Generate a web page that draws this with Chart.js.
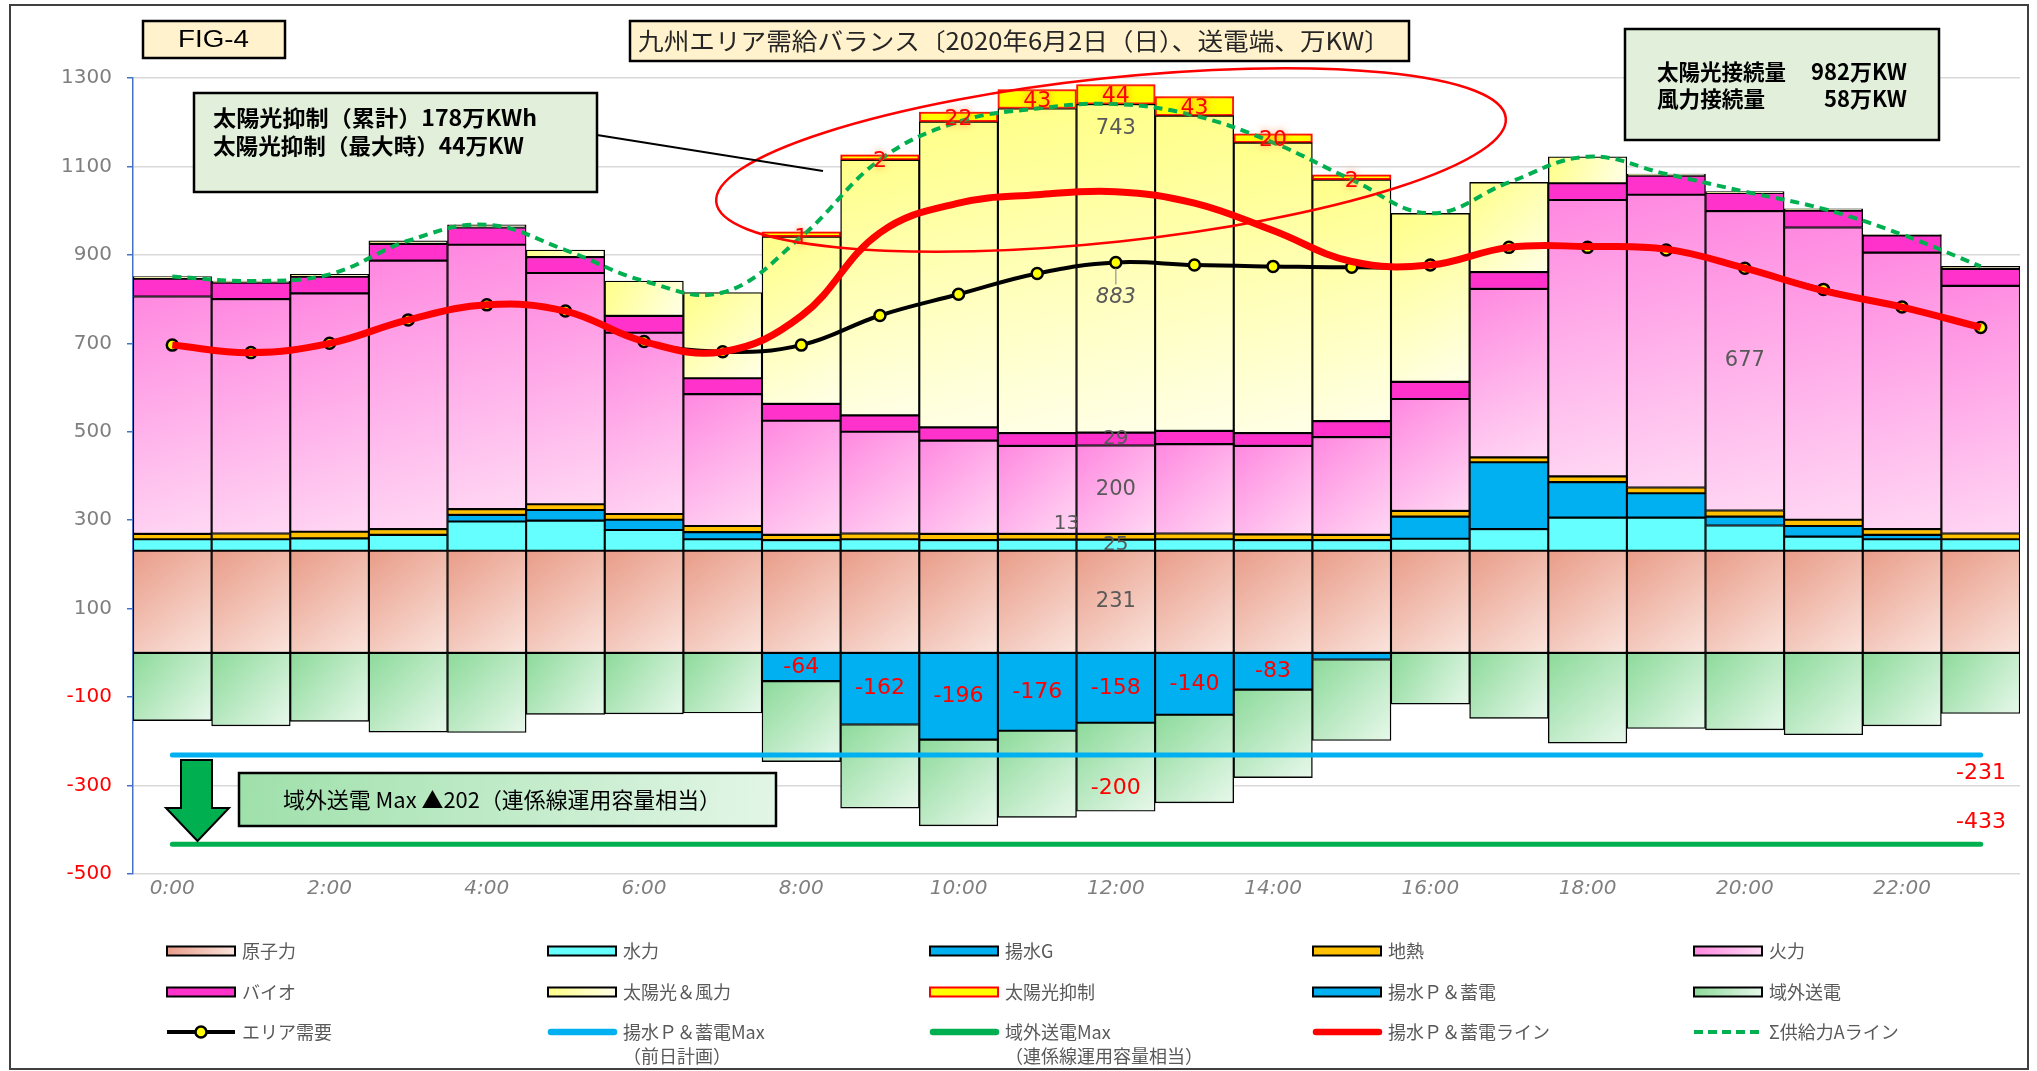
<!DOCTYPE html>
<html><head><meta charset="utf-8">
<script src="https://cdn.jsdelivr.net/npm/chart.js@4.4.0/dist/chart.umd.min.js"></script>
<style>html,body{margin:0;padding:0;background:#fff;overflow:hidden}canvas{display:block}</style>
</head><body>
<canvas id="c" width="2037" height="1071" style="width:2037px;height:1071px"></canvas>
<script>
// ---- data (万KW) ----
const hours = ['0:00','1:00','2:00','3:00','4:00','5:00','6:00','7:00','8:00','9:00','10:00','11:00','12:00','13:00','14:00','15:00','16:00','17:00','18:00','19:00','20:00','21:00','22:00','23:00'];
const nuclear    = [231,231,231,231,231,231,231,231,231,231,231,231,231,231,231,231,231,231,231,231,231,231,231,231];
const hydro      = [26,26,28,36,66,68,47,26,24,26,24,25,25,26,24,24,27,49,75,75,57,32,26,26];
const pumpGen    = [0,0,0,0,15,24,23,16,0,0,0,0,0,0,0,0,50,151,80,55,20,24,10,0];
const geothermal = [12,13,15,13,13,13,13,14,12,13,14,13,13,13,13,12,13,11,13,13,14,14,13,13];
const thermal    = [537,530,539,607,598,523,410,298,258,230,211,199,200,202,200,221,253,381,625,662,677,661,625,560];
const bio        = [40,37,38,38,39,36,38,36,38,37,30,29,29,30,29,36,39,38,38,43,41,38,39,38];
const solarWind  = [5,4,5,7,6,16,79,194,378,578,691,734,743,713,657,546,381,203,60,4,3,4,2,6];
const curtailment= [0,0,0,0,0,0,0,0,1,2,22,43,44,43,20,2,0,0,0,0,0,0,0,0];
const pumpCharge = [0,0,0,0,0,0,0,0,-64,-162,-196,-176,-158,-140,-83,-15,0,0,0,0,0,0,0,0];
const exportOut  = [-153,-165,-155,-179,-180,-139,-138,-136,-182,-189,-195,-196,-200,-199,-199,-183,-116,-148,-204,-171,-174,-185,-165,-137];
const demand     = [696,679,700,753,787,773,704,681,696,763,811,858,883,877,874,872,877,917,917,911,870,822,782,736];
const pumpLine   = [696,679,700,753,787,773,704,681,762,950,1017,1036,1043,1017,955,885,877,917,919,913,870,819,782,736];
const supplyLine = [851,841,856,932,968,911,841,815,941,1115,1201,1231,1241,1215,1154,1070,994,1064,1122,1083,1043,1004,946,874];
const pumpMax    = [-231,-231,-231,-231,-231,-231,-231,-231,-231,-231,-231,-231,-231,-231,-231,-231,-231,-231,-231,-231,-231,-231,-231,-231];
const exportMax  = [-433,-433,-433,-433,-433,-433,-433,-433,-433,-433,-433,-433,-433,-433,-433,-433,-433,-433,-433,-433,-433,-433,-433,-433];
const yTicks     = [1300,1100,900,700,500,300,100,-100,-300,-500];

const JP = "'Noto Sans CJK JP','Liberation Sans',sans-serif";
const NUM = "'DejaVu Sans','Liberation Sans',sans-serif";

const posSeries = [nuclear, hydro, pumpGen, geothermal, thermal, bio, solarWind, curtailment];
const negSeries = [pumpCharge, exportOut];
function extents(list, k, j){ let lo=0; for(let i=0;i<k;i++) lo += list[i][j]||0; return [lo, lo + (list[k][j]||0)]; }
function lin(c,x0,y0,x1,y1,c0,c1){ const g=c.createLinearGradient(x0,y0,x1,y1); g.addColorStop(0,c0); g.addColorStop(1,c1); return g; }
function gradBg(list,k,c0,c1){
  return (ctx)=>{
    const ch=ctx.chart; if(!ch.chartArea || ctx.type!=='data') return c0;
    const xs=ch.scales.x, ys=ch.scales.y, j=ctx.dataIndex;
    const cx=xs.getPixelForValue(j), hw=ch.chartArea.width/hours.length/2;
    const [a,b]=extents(list,k,j);
    return lin(ch.ctx, cx-hw, ys.getPixelForValue(Math.max(a,b)), cx+hw, ys.getPixelForValue(Math.min(a,b)), c0, c1);
  };
}
const nz = arr => arr.map(v => v===0 ? null : v);

const COL = {
  nuclear:['#E99C88','#FAE4DD'], hydro:'#66FFFF', pumpG:'#00B0F0', geo:'#FFC000',
  thermal:['#FF88E0','#FFD8F4'], bio:'#FF33CC', solar:['#FFFF88','#FFFFE8'],
  curtail:'#FFFF00', pump:'#00B0F0', export:['#8CDA9A','#E8F8EB']
};
const barBase = {type:'bar', stack:'S', borderColor:'#000', borderWidth:1.4, borderSkipped:false, categoryPercentage:1, barPercentage:1};

const datasets = [
  {type:'line', label:'Σ供給力Aライン', data:supplyLine, stack:'L1', borderColor:'#00B050', borderWidth:4, borderDash:[9,6], pointRadius:0, tension:0.4, fill:false},
  {type:'line', label:'揚水Ｐ＆蓄電ライン', data:pumpLine, stack:'L2', borderColor:'#FF0000', borderWidth:7, pointRadius:0, tension:0.4, fill:false},
  {type:'line', label:'エリア需要', data:demand, stack:'L3', borderColor:'#000', borderWidth:4, pointRadius:5.5, pointBorderWidth:2.5, pointBackgroundColor:'#FFFF00', pointBorderColor:'#000', tension:0.4, fill:false},
  {type:'line', label:'揚水Ｐ＆蓄電Max', data:pumpMax, stack:'L4', borderColor:'#00B0F0', borderWidth:5, borderCapStyle:'round', pointRadius:0, fill:false},
  {type:'line', label:'域外送電Max', data:exportMax, stack:'L5', borderColor:'#00B050', borderWidth:5, borderCapStyle:'round', pointRadius:0, fill:false},
  {...barBase, label:'原子力', data:nz(nuclear), backgroundColor:gradBg(posSeries,0,COL.nuclear[0],COL.nuclear[1])},
  {...barBase, label:'水力', data:nz(hydro), backgroundColor:COL.hydro},
  {...barBase, label:'揚水G', data:nz(pumpGen), backgroundColor:COL.pumpG},
  {...barBase, label:'地熱', data:nz(geothermal), backgroundColor:COL.geo},
  {...barBase, label:'火力', data:nz(thermal), backgroundColor:gradBg(posSeries,4,COL.thermal[0],COL.thermal[1])},
  {...barBase, label:'バイオ', data:nz(bio), backgroundColor:COL.bio},
  {...barBase, label:'太陽光＆風力', data:nz(solarWind), backgroundColor:gradBg(posSeries,6,COL.solar[0],COL.solar[1])},
  {...barBase, label:'太陽光抑制', data:nz(curtailment), backgroundColor:COL.curtail, borderColor:'#FF0000', borderWidth:2, minBarLength:5, glow:true},
  {...barBase, label:'揚水Ｐ＆蓄電', data:nz(pumpCharge), backgroundColor:COL.pump},
  {...barBase, label:'域外送電', data:nz(exportOut), backgroundColor:gradBg(negSeries,1,COL.export[0],COL.export[1])}
];

function txt(c,s,x,y,o={}){
  c.save();
  c.font=`${o.style||'normal'} ${o.weight||'normal'} ${o.size||20}px ${o.family||NUM}`;
  c.fillStyle=o.color||'#595959'; c.textAlign=o.align||'center'; c.textBaseline=o.base||'middle';
  if(o.glow){ c.shadowColor=o.glow; c.shadowBlur=7; }
  if(o.width){
    const w=c.measureText(s).width; const k=Math.max(0.75,Math.min(1.3,o.width/w));
    c.translate(x,y); c.scale(k,1); c.textAlign='left'; c.fillText(s,0,0);
  } else c.fillText(s,x,y);
  c.restore();
}
function box(c,x0,y0,x1,y1,fill){
  c.save(); c.fillStyle=fill; c.fillRect(x0,y0,x1-x0,y1-y0);
  c.lineWidth=2.5; c.strokeStyle='#000'; c.strokeRect(x0,y0,x1-x0,y1-y0); c.restore();
}

const legendItems = [
  {t:['原子力'], kind:'box', grad:COL.nuclear}, {t:['水力'], kind:'box', fill:COL.hydro}, {t:['揚水G'], kind:'box', fill:COL.pumpG}, {t:['地熱'], kind:'box', fill:COL.geo}, {t:['火力'], kind:'box', grad:COL.thermal},
  {t:['バイオ'], kind:'box', fill:COL.bio}, {t:['太陽光＆風力'], kind:'box', grad:COL.solar}, {t:['太陽光抑制'], kind:'box', fill:COL.curtail, stroke:'#FF0000'}, {t:['揚水Ｐ＆蓄電'], kind:'box', fill:COL.pump}, {t:['域外送電'], kind:'box', grad:COL.export},
  {t:['エリア需要'], kind:'marker'}, {t:['揚水Ｐ＆蓄電Max','（前日計画）'], kind:'line', color:'#00B0F0'}, {t:['域外送電Max','（連係線運用容量相当）'], kind:'line', color:'#00B050'}, {t:['揚水Ｐ＆蓄電ライン'], kind:'line', color:'#FF0000'}, {t:['Σ供給力Aライン'], kind:'dash', color:'#00B050'}
];
function drawLegend(c){
  const colX=[167,548,930,1313,1694], rowY=[951,992,1032], w=68;
  legendItems.forEach((it,i)=>{
    const x=colX[i%5], y=rowY[Math.floor(i/5)];
    c.save();
    if(it.kind==='box'){
      c.fillStyle = it.grad ? lin(c,x,y-4,x+w,y+4,it.grad[0],it.grad[1]) : it.fill;
      c.fillRect(x,y-4.5,w,9); c.lineWidth=2; c.strokeStyle=it.stroke||'#000'; c.strokeRect(x,y-4.5,w,9);
    } else if(it.kind==='line'){
      c.strokeStyle=it.color; c.lineWidth=6.5; c.lineCap='round'; c.beginPath(); c.moveTo(x+3,y); c.lineTo(x+w-2,y); c.stroke();
    } else if(it.kind==='dash'){
      c.strokeStyle=it.color; c.lineWidth=4; c.setLineDash([9,5]); c.beginPath(); c.moveTo(x,y); c.lineTo(x+w,y); c.stroke();
    } else {
      c.strokeStyle='#000'; c.lineWidth=4; c.beginPath(); c.moveTo(x,y); c.lineTo(x+w,y); c.stroke();
      c.beginPath(); c.arc(x+w/2,y,5.5,0,Math.PI*2); c.fillStyle='#FFFF00'; c.fill(); c.lineWidth=2.5; c.stroke();
    }
    c.restore();
    it.t.forEach((s,k)=>txt(c,s,x+75,y+k*24,{size:18,align:'left',family:JP,color:'#595959'}));
  });
}

const deco = {
  id:'deco',
  beforeDatasetDraw(chart,args){ if(chart.data.datasets[args.index].glow){ const c=chart.ctx; c.save(); c.shadowColor='rgba(255,110,40,0.85)'; c.shadowBlur=14; } },
  afterDatasetDraw(chart,args){ if(chart.data.datasets[args.index].glow){ chart.ctx.restore(); } },
  afterDraw(chart){
    const c=chart.ctx, xs=chart.scales.x, ys=chart.scales.y, Y=v=>ys.getPixelForValue(v), X=j=>xs.getPixelForValue(j);
    const hw = chart.chartArea.width/hours.length/2;
    // red ellipse
    c.save(); c.strokeStyle='#FF0000'; c.lineWidth=2.5; c.beginPath(); c.ellipse(1111,160,397,82,-0.1065,0,Math.PI*2); c.stroke(); c.restore();
    // curtailment labels
    curtailment.forEach((v,j)=>{ if(v>0){ const [a,b]=extents(posSeries,7,j); txt(c,String(v),X(j),Y((a+b)/2)+2,{size:22,color:'#FF0000',glow:'rgba(255,120,40,0.9)'}); } });
    // pump labels
    pumpCharge.forEach((v,j)=>{ if(v<=-50) txt(c,String(v),X(j),Y(v/2),{size:22,color:'#FF0000'}); });
    // 12:00 column labels
    const k=12;
    const e = i=>extents(posSeries,i,k);
    txt(c,String(nuclear[k]),X(k),Y(nuclear[k]/2),{size:21,color:'#595959'});
    txt(c,String(hydro[k]),X(k),Y((e(1)[0]+e(1)[1])/2),{size:20,color:'#595959'});
    txt(c,String(geothermal[k]),X(k)-hw-10,Y(e(3)[1])-10,{size:20,color:'#595959'});
    txt(c,String(thermal[k]),X(k),Y((e(4)[0]+e(4)[1])/2),{size:21,color:'#595959'});
    txt(c,String(bio[k]),X(k),Y((e(5)[0]+e(5)[1])/2),{size:20,color:'#595959'});
    txt(c,String(solarWind[k]),X(k),Y(e(6)[1])+24,{size:21,color:'#595959'});
    c.save(); c.strokeStyle='#A6A6A6'; c.lineWidth=1.5; c.beginPath(); c.moveTo(X(k),Y(demand[k])+6); c.lineTo(X(k),Y(demand[k])+22); c.stroke(); c.restore();
    txt(c,String(demand[k]),X(k),Y(demand[k])+35,{size:21,style:'italic',color:'#595959'});
    txt(c,String(exportOut[k]),X(k),Y(pumpCharge[k]+exportOut[k])-23,{size:22,color:'#FF0000'});
    const t=20; const et=extents(posSeries,4,t);
    txt(c,String(thermal[t]),X(t),Y((et[0]+et[1])/2),{size:21,color:'#595959'});
    // max line labels
    txt(c,String(pumpMax[23]),2006,Y(pumpMax[23])+18,{size:22,color:'#FF0000',align:'right'});
    txt(c,String(exportMax[23]),2006,Y(exportMax[23])-22,{size:22,color:'#FF0000',align:'right'});
    // boxes
    box(c,143,21,285,58,'#FFF2CC');
    txt(c,'FIG-4',178,40,{size:24,family:"'Liberation Sans',sans-serif",color:'#000',align:'left',width:71});
    box(c,630,21,1409,61,'#FFF2CC');
    txt(c,'九州エリア需給バランス〔2020年6月2日（日）、送電端、万KW〕',638,41,{size:24,family:JP,color:'#262626',align:'left',width:752});
    box(c,194,93,597,192,'#E2EFDA');
    txt(c,'太陽光抑制（累計）178万KWh',213,118,{size:22,family:JP,weight:'bold',color:'#000',align:'left',width:324});
    txt(c,'太陽光抑制（最大時）44万KW',213,146,{size:22,family:JP,weight:'bold',color:'#000',align:'left',width:311});
    c.save(); c.strokeStyle='#000'; c.lineWidth=2; c.beginPath(); c.moveTo(597,135); c.lineTo(823,171); c.stroke(); c.restore();
    box(c,1625,29,1939,140,'#E2EFDA');
    txt(c,'太陽光接続量',1657,72,{size:22,family:JP,weight:'bold',color:'#000',align:'left',width:129});
    txt(c,'982万KW',1907,72,{size:22,family:JP,weight:'bold',color:'#000',align:'right'});
    txt(c,'風力接続量',1657,99,{size:22,family:JP,weight:'bold',color:'#000',align:'left',width:108});
    txt(c,'58万KW',1907,99,{size:22,family:JP,weight:'bold',color:'#000',align:'right'});
    box(c,239,773,776,826,lin(c,239,773,776,826,'#9EE0AA','#E3F6E7'));
    txt(c,'域外送電 Max ▲202（連係線運用容量相当）',283,800,{size:22,family:JP,color:'#000',align:'left',width:438});
    // arrow
    c.save(); c.beginPath(); c.moveTo(181,760); c.lineTo(212,760); c.lineTo(212,808); c.lineTo(229,808); c.lineTo(197.5,841); c.lineTo(166,808); c.lineTo(181,808); c.closePath();
    c.fillStyle='#00B050'; c.fill(); c.lineWidth=2; c.strokeStyle='#000'; c.stroke(); c.restore();
    drawLegend(c);
    c.save(); c.strokeStyle='#404040'; c.lineWidth=2; c.strokeRect(10,5,2018,1064); c.restore();
  }
};

new Chart(document.getElementById('c'), {
  type:'bar',
  data:{labels:hours, datasets},
  options:{
    responsive:false, animation:false, devicePixelRatio:1,
    layout:{autoPadding:false, padding:{left:0, top:78, right:17, bottom:157}},
    plugins:{legend:{display:false}, tooltip:{enabled:false}, title:{display:false}},
    scales:{
      x:{stacked:true, offset:true, grid:{display:false}, border:{display:false},
         ticks:{autoSkip:false, maxRotation:0, minRotation:0, padding:-5, color:'#7F7F7F', font:{family:NUM, size:20, style:'italic'},
                callback:(v,i)=> i%2===0 ? hours[i] : ''},
         afterFit:s=>{s.height=40;}},
      y:{stacked:true, min:-500, max:1300,
         afterBuildTicks:s=>{ s.ticks = yTicks.map(v=>({value:v})); },
         ticks:{padding:15, color:c=> (c.tick && c.tick.value<0) ? '#FF0000' : '#7F7F7F', font:{family:NUM, size:20},
                callback:v=>String(v)},
         grid:{color:'#D9D9D9', lineWidth:1.5, tickColor:'#4472C4', tickLength:6},
         border:{color:'#4472C4', width:1.5},
         afterFit:s=>{s.width=133;}}
    }
  },
  plugins:[deco]
});
</script>
</body></html>
